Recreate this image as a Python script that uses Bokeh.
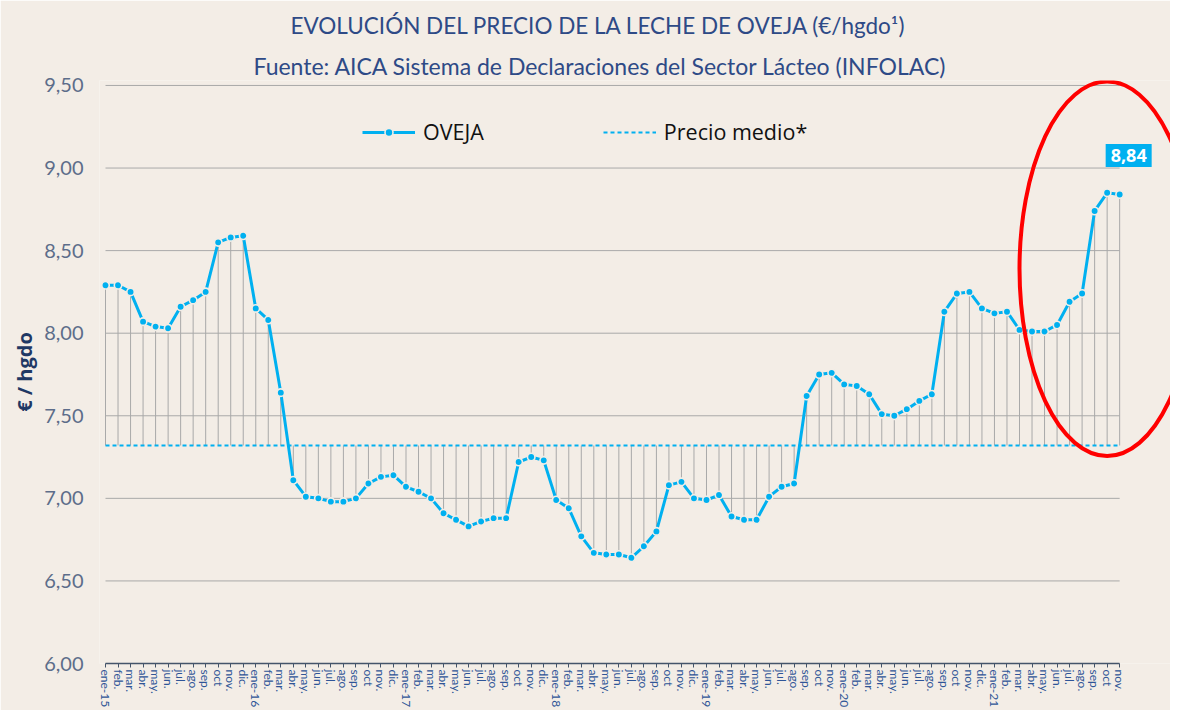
from bokeh.plotting import figure
from bokeh.models import (FixedTicker, Legend, LegendItem, Label, Title, Range1d)
from bokeh.embed import file_html
from bokeh.resources import INLINE

# ---------------- data ----------------
m12 = ["feb.", "mar.", "abr.", "may.", "jun.", "jul.", "ago.", "sep.", "oct", "nov.", "dic."]
meses = (["ene-15"] + m12 +
         ["ene-16"] + m12 +
         ["ene-17"] + m12 +
         ["ene-18"] + m12 +
         ["ene-19"] + m12[:10] +          # dic-19 not reported
         ["ene-20"] + m12 +
         ["ene-21"] + m12[:10])

oveja = [8.29, 8.29, 8.25, 8.07, 8.04, 8.03, 8.16, 8.20, 8.25, 8.55, 8.58, 8.59,
         8.15, 8.08, 7.64, 7.11, 7.01, 7.00, 6.98, 6.98, 7.00, 7.09, 7.13, 7.14,
         7.07, 7.04, 7.00, 6.91, 6.87, 6.83, 6.86, 6.88, 6.88, 7.22, 7.25, 7.23,
         6.99, 6.94, 6.77, 6.67, 6.66, 6.66, 6.64, 6.71, 6.80, 7.08, 7.10, 7.00,
         6.99, 7.02, 6.89, 6.87, 6.87, 7.01, 7.07, 7.09, 7.62, 7.75, 7.76,
         7.69, 7.68, 7.63, 7.51, 7.50, 7.54, 7.59, 7.63, 8.13, 8.24, 8.25, 8.15,
         8.12, 8.13, 8.02, 8.01, 8.01, 8.05, 8.19, 8.24, 8.74, 8.85, 8.84]

precio_medio = 7.32

y_ticks = [6.0, 6.5, 7.0, 7.5, 8.0, 8.5, 9.0, 9.5]
y_tick_labels = ["6,00", "6,50", "7,00", "7,50", "8,00", "8,50", "9,00", "9,50"]

titulo = "EVOLUCIÓN DEL PRECIO DE LA LECHE DE  OVEJA (€/hgdo¹)"
subtitulo = "Fuente: AICA Sistema de Declaraciones del Sector Lácteo (INFOLAC)"

# ---------------- style ----------------
BG = "#f3ede6"
BLUE = "#00b0f0"
GRID = "#a9a9a9"
TITLE_C = "#2e4a86"

n = len(oveja)
xs = list(range(n))
medio = [precio_medio] * n

p = figure(width=1170, height=710, output_backend="svg", toolbar_location=None,
           x_range=Range1d(-0.48, 85.06), y_range=Range1d(6.0, 9.53),
           min_border_left=99, min_border_right=0, min_border_top=80,
           min_border_bottom=45, background_fill_color=BG, border_fill_color=BG,
           outline_line_color=None)

p.xgrid.visible = False
p.ygrid.visible = False

# horizontal gridlines only across the data span
p.segment(x0=[0] * len(y_ticks), x1=[n - 1] * len(y_ticks), y0=y_ticks, y1=y_ticks,
          line_color=GRID, line_width=1)

# high-low lines between series
p.segment(x0=xs, x1=xs, y0=medio, y1=oveja, line_color=GRID, line_width=1)

# mean line
r_medio = p.line(xs, medio, line_color=BLUE, line_width=2, line_dash="4 3")

# main series
r_line = p.line(xs, oveja, line_color=BLUE, line_width=3)
r_pts = p.scatter(xs, oveja, size=7.5, fill_color=BLUE, line_color=BG, line_width=1.6)

# red highlight ellipse
p.ellipse(x=[n - 2.0], y=[8.39], width=14, height=2.27, fill_color=None,
          line_color="#ff0000", line_width=4)

# last value label
last_txt = f"{oveja[-1]:.2f}".replace(".", ",")
p.add_layout(Label(x=n - 1, y=oveja[-1], text=last_txt, x_offset=9, y_offset=39,
                   text_align="center", text_baseline="middle", text_color="white",
                   text_font="Open Sans", text_font_style="bold", text_font_size="18px",
                   background_fill_color=BLUE, padding=5))

# axes
xa = p.xaxis[0]
xa.ticker = FixedTicker(ticks=xs)
xa.major_label_overrides = {i: lab for i, lab in enumerate(meses)}
xa.major_label_orientation = "vertical"
xa.bounds = (0, n - 1)
xa.axis_line_color = "#44546a"
xa.axis_line_width = 1.5
xa.major_tick_line_color = "#44546a"
xa.major_tick_out = 4
xa.major_tick_in = 0
xa.minor_tick_line_color = None
xa.major_label_text_color = "#2f5597"
xa.major_label_text_font = "Lato"
xa.major_label_text_font_size = "12px"
xa.major_label_standoff = 2

ya = p.yaxis[0]
ya.ticker = FixedTicker(ticks=y_ticks)
ya.major_label_overrides = {v: s for v, s in zip(y_ticks, y_tick_labels)}
ya.axis_line_color = None
ya.major_tick_line_color = None
ya.minor_tick_line_color = None
ya.major_label_text_color = "#5d6d8a"
ya.major_label_text_font = "Lato"
ya.major_label_text_font_size = "20px"
ya.major_label_standoff = 10
ya.axis_label = "€ / hgdo"
ya.axis_label_text_font = "Open Sans"
ya.axis_label_text_font_style = "bold"
ya.axis_label_text_font_size = "20px"
ya.axis_label_text_color = "#1f3864"
ya.axis_label_standoff = 3

# titles (first added is nearest to the frame)
p.add_layout(Title(text=subtitulo, align="left", offset=154, text_font="Lato",
                   text_font_style="normal", text_font_size="23px",
                   text_color=TITLE_C, standoff=2), "above")
p.add_layout(Title(text=titulo, align="left", offset=191, text_font="Lato",
                   text_font_style="normal", text_font_size="22.5px",
                   text_color=TITLE_C, standoff=19), "above")

legend = Legend(items=[LegendItem(label="OVEJA", renderers=[r_line, r_pts]),
                       LegendItem(label="Precio medio*", renderers=[r_medio])],
                orientation="horizontal", location=(263, 517),
                background_fill_alpha=0, border_line_color=None,
                glyph_width=53, glyph_height=20, label_standoff=8, spacing=119,
                padding=0, margin=0, label_text_font="Open Sans",
                label_text_font_size="21.5px", label_text_color="#111111")
p.add_layout(legend, "center")

open("out.html", "w").write(file_html(p, INLINE))
